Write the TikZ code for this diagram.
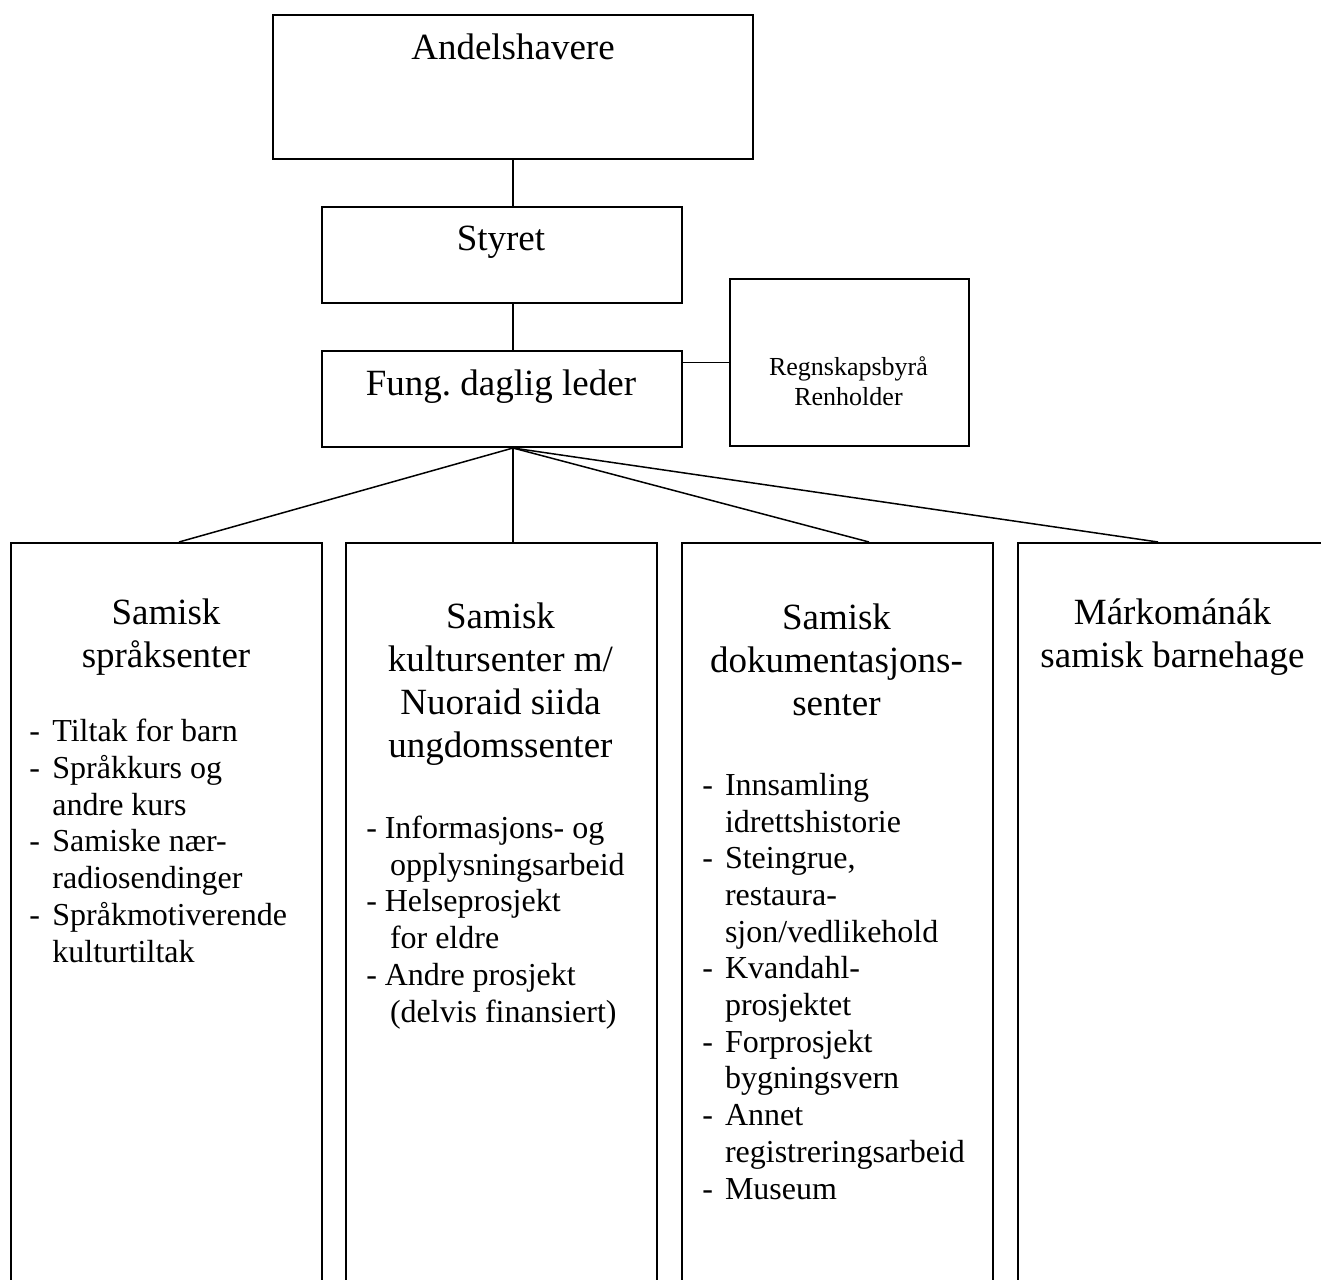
\documentclass[tikz,border=0pt]{standalone}
\usepackage{fontspec}
\setmainfont{Liberation Serif}
\frenchspacing
\newcommand{\dsh}[1]{\makebox[#1][l]{-}}

\begin{document}
\begin{tikzpicture}[x=0.5pt,y=-0.5pt]
    \tikzstyle{box}=[draw, line width=1pt, rectangle, inner sep=0pt, anchor=north west]
    \tikzstyle{unit}=[box, minimum width=155.5pt, minimum height=400pt]
    \tikzstyle{big}=[font=\fontsize{18.5}{21.5}\selectfont, inner sep=0pt, anchor=base, align=center]
    \tikzstyle{small}=[font=\fontsize{13}{15}\selectfont, inner sep=0pt, anchor=base, align=center]
    \tikzstyle{list}=[font=\fontsize{16}{18.35}\selectfont, inner sep=0pt, anchor=base west, align=left]
    \tikzstyle{link}=[line width=0.75pt]
    \clip (0,0) rectangle (1321,1279);

    % top of the chart
    \node[box, minimum width=240pt, minimum height=72pt] (andel) at (272,14) {};
    \node[box, minimum width=180pt, minimum height=48pt] (styret) at (321,206) {};
    \node[box, minimum width=180pt, minimum height=48pt] (fung) at (321,350) {};
    \node[box, minimum width=119.5pt, minimum height=83.5pt] (regn) at (729,278) {};
    \node[big] (andeltxt) at (513,60) {Andelshavere};
    \node[big] (styrettxt) at (501,250) {Styret};
    \node[big] (fungtxt) at (501,395) {Fung. daglig leder};
    \node[small] (regntxt) at (848.5,405) {Regnskapsbyrå\\Renholder};

    % the four units (base = last line)
    \node[unit] (sprak) at (10,542) {};
    \node[unit] (kultur) at (345,542) {};
    \node[unit] (dok) at (681,542) {};
    \node[unit] (barn) at (1017,542) {};
    \node[big] (spraktxt) at (166,667) {Samisk\\språksenter};
    \node[big] (kulturtxt) at (500.5,757) {Samisk\\kultursenter m/\\Nuoraid siida\\ungdomssenter};
    \node[big] (doktxt) at (836.5,715) {Samisk\\dokumentasjons-\\senter};
    \node[big] (barntxt) at (1172.5,667) {Márkománák\\samisk barnehage};

    \node[list] (sprakliste) at (29,962) {\dsh{11.5pt}Tiltak for barn\\
        \dsh{11.5pt}Språkkurs og\\
        \hspace*{11.5pt}andre kurs\\
        \dsh{11.5pt}Samiske nær-\\
        \hspace*{11.5pt}radiosendinger\\
        \dsh{11.5pt}Språkmotiverende\\
        \hspace*{11.5pt}kulturtiltak};
    \node[list] (kulturliste) at (366,1022) {\dsh{9.2pt}Informasjons- og\\
        \hspace*{11.8pt}opplysningsarbeid\\
        \dsh{9.2pt}Helseprosjekt\\
        \hspace*{11.8pt}for eldre\\
        \dsh{9.2pt}Andre prosjekt\\
        \hspace*{11.8pt}(delvis finansiert)};
    \node[list] (dokliste) at (702,1199) {\dsh{11.3pt}Innsamling\\
        \hspace*{11.3pt}idrettshistorie\\
        \dsh{11.3pt}Steingrue,\\
        \hspace*{11.3pt}restaura-\\
        \hspace*{11.3pt}sjon/vedlikehold\\
        \dsh{11.3pt}Kvandahl-\\
        \hspace*{11.3pt}prosjektet\\
        \dsh{11.3pt}Forprosjekt\\
        \hspace*{11.3pt}bygningsvern\\
        \dsh{11.3pt}Annet\\
        \hspace*{11.3pt}registreringsarbeid\\
        \dsh{11.3pt}Museum};

    % connectors
    \coordinate (hub) at (andel.south |- fung.south);
    \coordinate (t1) at (179,542);
    \coordinate (t3) at (869,542);
    \coordinate (t4) at (1158,542);
    \draw[link] (andel.south) -- (andel.south |- styret.north);
    \draw[link] (andel.south |- styret.south) -- (andel.south |- fung.north);
    \draw[link] (regn.west) -- (regn.west -| fung.east);
    \draw[link] (hub) -- (t1);
    \draw[link] (hub) -- (hub |- kultur.north);
    \draw[link] (hub) -- (t3);
    \draw[link] (hub) -- (t4);
\end{tikzpicture}
\end{document}
